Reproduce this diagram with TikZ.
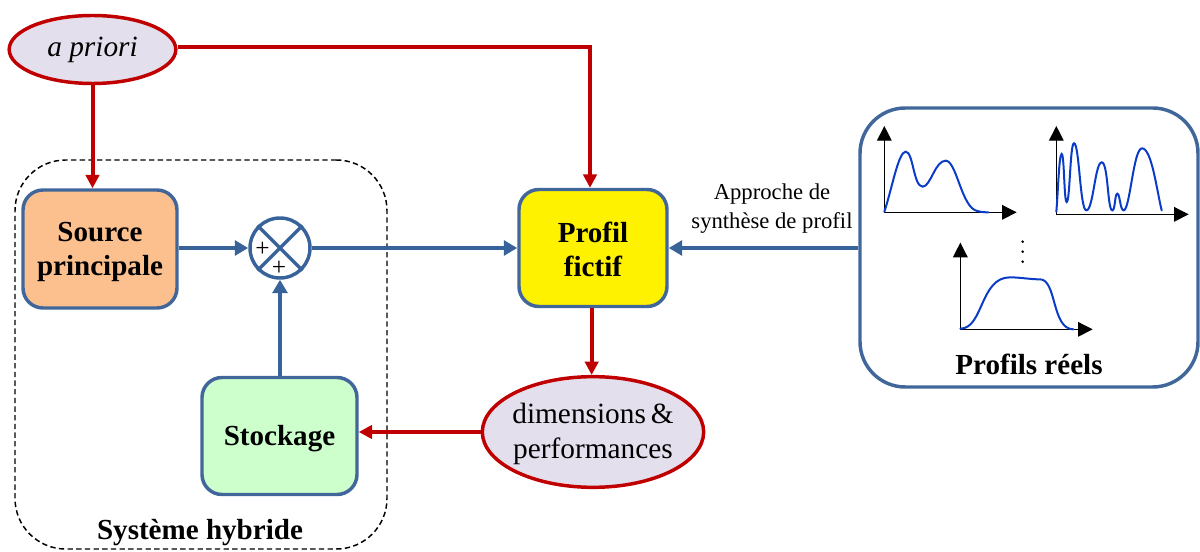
\documentclass[tikz,border=0pt]{standalone}
\usepackage{fontspec}
\setmainfont{Liberation Serif}
\usetikzlibrary{arrows.meta,calc,shapes.geometric}
\definecolor{bluel}{HTML}{38639A}
\definecolor{boxl}{HTML}{41679A}
\definecolor{redl}{HTML}{C00000}
\definecolor{ellf}{HTML}{E4DFEC}
\definecolor{curve}{HTML}{0A3CC8}
\newcommand{\tallrule}[1]{\rule{0pt}{#1}}
\tikzset{
  blk/.style={draw=boxl,line width=2.6pt,rounded corners=15pt,inner sep=0pt,align=center,font=\fontsize{21.8}{25.5}\selectfont\bfseries},
  ell/.style={ellipse,draw=redl,fill=ellf,line width=2.6pt,inner sep=0pt,align=center,font=\fontsize{22}{26}\selectfont},
  blueflow/.style={draw=bluel,line width=2.7pt,-{Triangle[length=10pt,width=11pt]}},
  redflow/.style={draw=redl,line width=3pt,-{Triangle[length=10pt,width=10pt]}},
  axis/.style={draw=black,line width=0.9pt,-{Triangle[length=11pt,width=11pt]}},
  prof/.style={draw=curve,line width=1.5pt,line cap=round},
  lbl/.style={inner sep=0pt,align=center,font=\fontsize{21.8}{26}\selectfont\bfseries},
  small/.style={inner sep=0pt,align=center,font=\fontsize{17}{21.5}\selectfont},
  plus/.style={inner sep=0pt,font=\fontsize{19}{19}\selectfont}
}
\begin{document}
\begin{tikzpicture}[x=0.75pt,y=-0.75pt]
\useasboundingbox (0,0) rectangle (1200,552);
% dashed system outline
\node[draw=black,dash pattern=on 4pt off 2.5pt,line width=1.1pt,rounded corners=38pt,minimum width=279pt,minimum height=291.75pt,inner sep=0pt] (sys) at (201,354.5) {};
\node[lbl] (systxt) at (200,533) {Système hybride};
% real profiles box
\node[draw=boxl,line width=2.6pt,rounded corners=34pt,minimum width=253.5pt,minimum height=209.25pt,inner sep=0pt] (real) at (1029,247.5) {};
\node[lbl] (realtxt) at (1029,364) {Profils réels};
% blocks
\node[blk,fill={rgb,255:red,251;green,192;blue,142},minimum width=115.5pt,minimum height=88.5pt] (source) at (100,249) {\tallrule{19.5pt}Source\\principale};
\node[blk,fill={rgb,255:red,204;green,255;blue,204},minimum width=116.25pt,minimum height=87.75pt] (stock) at (279.5,436) {\tallrule{19.5pt}Stockage};
\node[blk,fill=yellow,minimum width=111pt,minimum height=87.75pt] (profil) at (593,248) {\tallrule{18pt}Profil\\fictif};
% ellipses
\node[ell,minimum width=125pt,minimum height=51pt,font=\fontsize{22}{26}\selectfont\itshape] (apriori) at (92.5,49.5) {a priori};
\node[ell,inner xsep=-3pt,minimum width=166pt,minimum height=83pt] (dims) at (593,432) {\tallrule{18pt}dimensions\,\&\\performances};
% summing junction
\node[circle,draw=bluel,line width=2.6pt,fill=white,minimum size=45pt,inner sep=0pt] (sum) at (280,248) {};
\draw[bluel,line width=2.6pt] (sum.45) -- (sum.225) (sum.135) -- (sum.315);
\node[plus] (p1) at (262.5,249) {+};
\node[plus] (p2) at (279,268) {+};
% labels
\node[small] (approche) at (772,208.5) {Approche de\\synthèse de profil};
% blue connectors
\draw[blueflow] (source.east |- sum.west) -- (sum.west);
\draw[blueflow] (sum.east) -- (sum.east -| profil.west);
\draw[blueflow] (stock.north -| sum.south) -- (sum.south);
\draw[blueflow] (real.west |- profil.east) -- (profil.east);
% red connectors
\draw[redflow] (apriori.south) -- (apriori.south |- source.north);
\draw[redflow] ([yshift=1.5pt]apriori.east) -| ([xshift=-2.25pt]profil.north);
\draw[redflow] ([xshift=-1pt]profil.south) -- ([xshift=-1pt]dims.north);
\draw[redflow] (dims.west) -- (dims.west -| stock.east);
% charts, in coordinates of a 3x crop
\begin{scope}[shift={(860,100)},x=0.25pt,y=-0.25pt]
  \coordinate (o1) at (73,337); \coordinate (y1) at (73,78); \coordinate (x1) at (470,337);
  \coordinate (o2) at (589,343); \coordinate (y2) at (589,78); \coordinate (x2) at (986,343);
  \coordinate (o3) at (301,688); \coordinate (y3) at (301,428); \coordinate (x3) at (698,688);
  \draw[axis] (o1) -- (y1); \draw[axis] (o1) -- (x1);
  \draw[axis] (o2) -- (y2); \draw[axis] (o2) -- (x2);
  \draw[axis] (o3) -- (y3); \draw[axis] (o3) -- (x3);
  \draw[prof] (73,335) .. controls (95,270) and (115,155) .. (137,155)
     .. controls (160,155) and (160,260) .. (188,260)
     .. controls (212,260) and (225,182) .. (257,182)
     .. controls (290,182) and (305,325) .. (352,333) .. controls (362,336) and (375,337) .. (385,337);
  \draw[prof] (589,335) .. controls (594,280) and (597,162) .. (605,162)
     .. controls (613,162) and (612,306) .. (620,306)
     .. controls (630,306) and (630,130) .. (642,130)
     .. controls (658,130) and (660,331) .. (679,331)
     .. controls (700,331) and (705,187) .. (725,187)
     .. controls (745,187) and (742,331) .. (757,331)
     .. controls (766,331) and (764,281) .. (772,281)
     .. controls (780,281) and (780,331) .. (791,331)
     .. controls (810,331) and (820,145) .. (846,145)
     .. controls (875,145) and (890,270) .. (905,331);
  \draw[prof] (301,686) .. controls (370,686) and (360,532) .. (450,532)
     .. controls (480,532) and (510,538) .. (540,538)
     .. controls (590,538) and (575,688) .. (640,688);
  \fill (488,425) circle (1.1pt) (488,455) circle (1.1pt) (488,485) circle (1.1pt);
\end{scope}
\end{tikzpicture}
\end{document}
